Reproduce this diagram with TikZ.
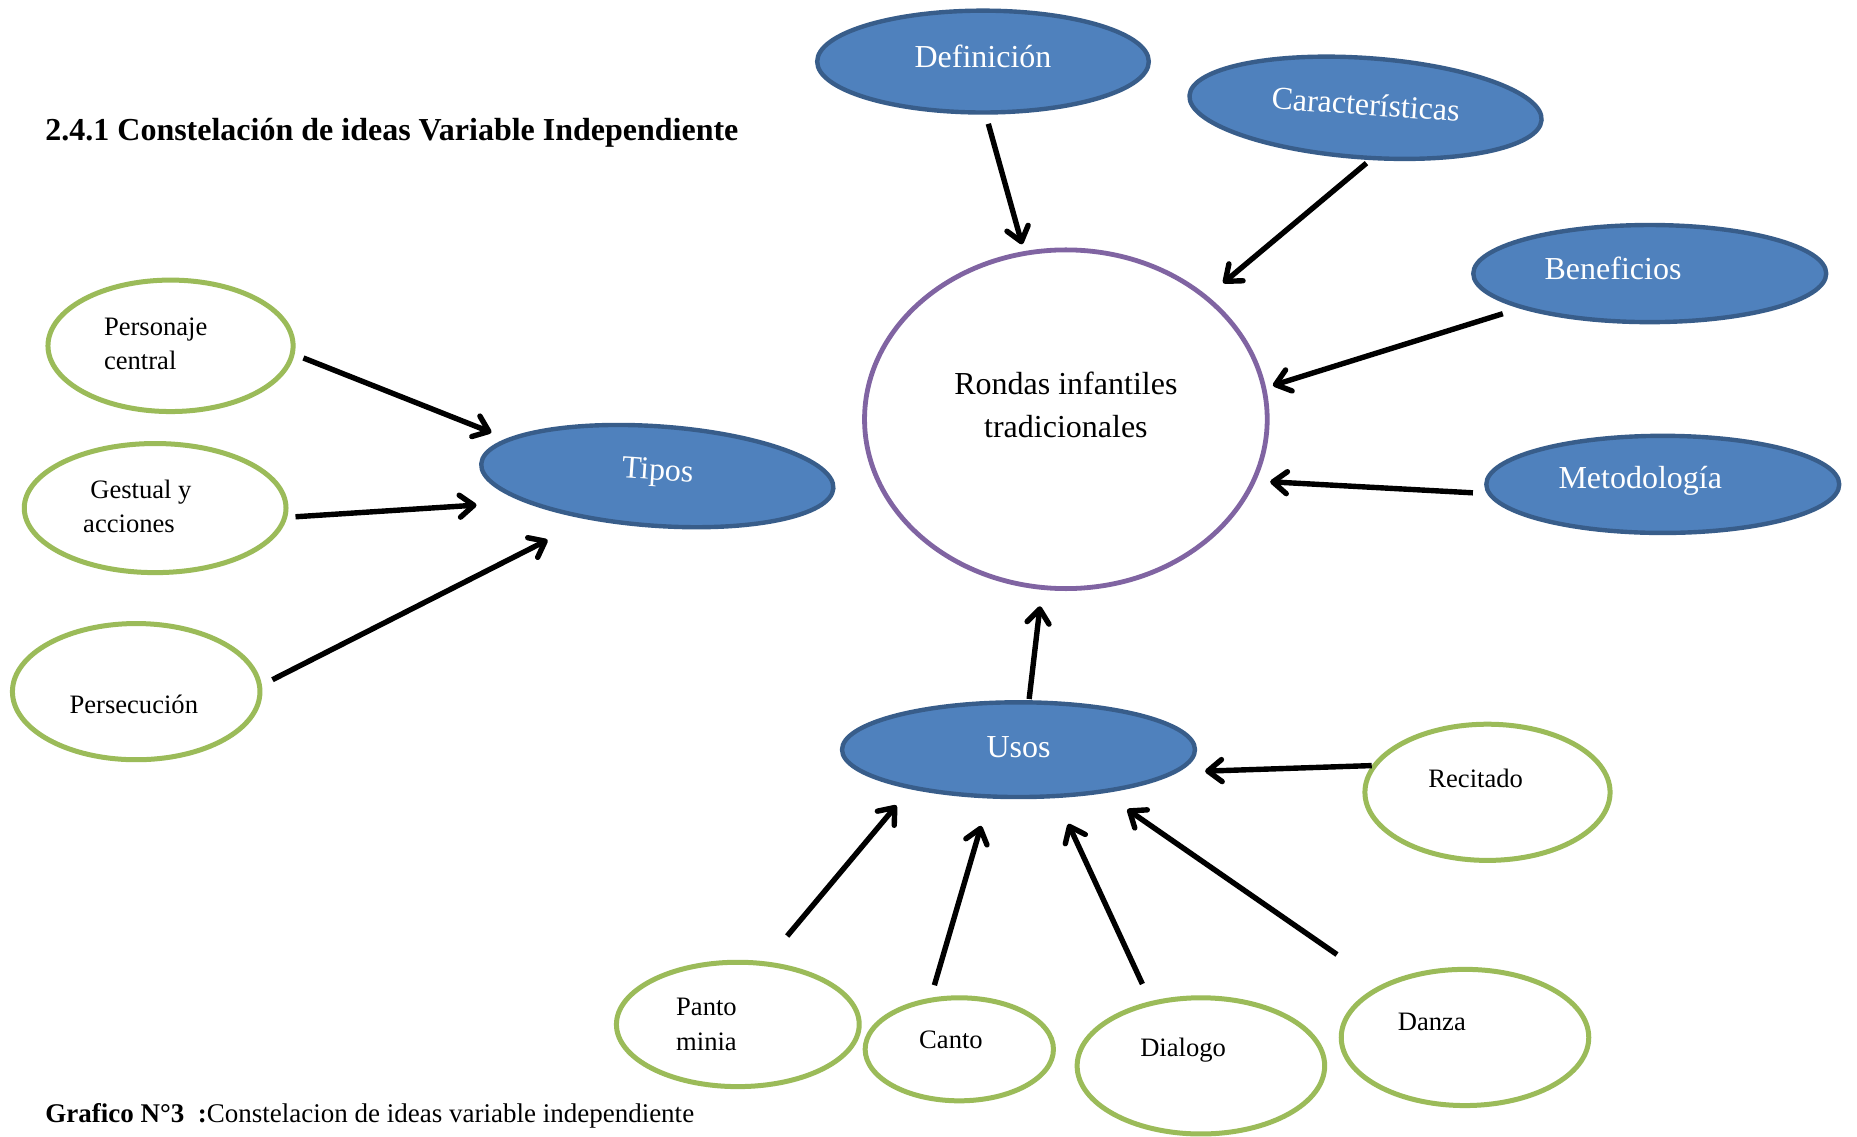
\documentclass[tikz,border=0pt]{standalone}
\usepackage{fontspec}
\setmainfont{Liberation Serif}
\usetikzlibrary{arrows.meta,shapes.geometric}
\newdimen\pxu \pxu=0.5922pt
\definecolor{bfill}{HTML}{4F81BD}
\definecolor{bline}{HTML}{385D8A}
\definecolor{purp}{HTML}{8064A2}
\definecolor{grn}{HTML}{9BBB59}
\begin{document}
\begin{tikzpicture}[x=0.5922pt,y=-0.5922pt,
  bluenode/.style={ellipse, fill=bfill, draw=bline, line width=2.2pt, inner sep=0pt},
  greennode/.style={ellipse, fill=white, draw=grn, line width=2.5pt, inner sep=0pt},
  mainnode/.style={ellipse, fill=white, draw=purp, line width=2.4pt, inner sep=0pt},
  btxt/.style={text=white, font=\fontsize{16}{19}\selectfont, inner sep=0pt},
  gtxt/.style={text=black, font=\fontsize{13.3}{17.2}\selectfont, inner sep=0pt},
  arr/.style={line width=2.7pt, -{Straight Barb[round, length=7pt, width=11pt]}},
  sh/.style 2 args={shorten <=#1\pxu, shorten >=#2\pxu}]
\useasboundingbox (0,0) rectangle (1568,960);
\fill[white] (0,0) rectangle (1568,960);

% title and caption
\node[anchor=west, inner sep=0pt, font=\fontsize{16}{19}\selectfont\bfseries] (title) at (38,112) {2.4.1 Constelación de ideas Variable Independiente};
\node[anchor=west, inner sep=0pt, font=\fontsize{13.5}{16}\selectfont] (caption) at (38,942) {\textbf{Grafico N°3\ \ :}Constelacion de ideas variable independiente};

% central node
\node[mainnode, minimum width=340\pxu, minimum height=286\pxu,
  label={[text=black, font=\fontsize{16}{21.3}\selectfont, align=center, inner sep=0pt, yshift=12\pxu]center:Rondas infantiles\\tradicionales}] (rit) at (900,354) {};

% blue nodes
\node[bluenode, minimum width=280\pxu, minimum height=86\pxu,
  label={[btxt, yshift=4\pxu]center:Definición}] (def) at (830,52) {};
\node[bluenode, rotate=-4, minimum width=298\pxu, minimum height=84\pxu,
  label={[btxt, rotate=-4, yshift=3\pxu]center:Características}] (car) at (1153,91) {};
\node[bluenode, minimum width=298\pxu, minimum height=82\pxu,
  label={[btxt, xshift=-31\pxu, yshift=4\pxu]center:Beneficios}] (ben) at (1393,231) {};
\node[bluenode, minimum width=298\pxu, minimum height=82\pxu,
  label={[btxt, xshift=-19\pxu, yshift=3\pxu]center:Metodología}] (met) at (1404,409) {};
\node[bluenode, rotate=-4, minimum width=298\pxu, minimum height=84\pxu,
  label={[btxt, rotate=-4, yshift=3\pxu]center:Tipos}] (tip) at (555,402) {};
\node[bluenode, minimum width=298\pxu, minimum height=80\pxu,
  label={[btxt, yshift=2\pxu]center:Usos}] (uso) at (860,633) {};

% green nodes
\node[greennode, minimum width=207\pxu, minimum height=111\pxu,
  label={[gtxt, align=left, xshift=-12.5\pxu, yshift=1.5\pxu]center:Personaje\\central}] (per) at (144,292) {};
\node[greennode, minimum width=221\pxu, minimum height=109\pxu,
  label={[gtxt, align=left, xshift=-15\pxu, yshift=1.5\pxu]center:\hspace*{6\pxu}Gestual y\\acciones}] (ges) at (131,429) {};
\node[greennode, minimum width=209\pxu, minimum height=115\pxu,
  label={[gtxt, xshift=-2\pxu, yshift=-11\pxu]center:Persecución}] (pers) at (115,584) {};
\node[greennode, minimum width=205\pxu, minimum height=105\pxu,
  label={[gtxt, align=center, xshift=-26.5\pxu]center:Panto\\minia}] (pan) at (623,865) {};
\node[greennode, minimum width=159\pxu, minimum height=87\pxu,
  label={[gtxt, xshift=-7\pxu, yshift=8\pxu]center:Canto}] (can) at (810,886) {};
\node[greennode, minimum width=209\pxu, minimum height=115\pxu,
  label={[gtxt, xshift=-15\pxu, yshift=13\pxu]center:Dialogo}] (dia) at (1014,900) {};
\node[greennode, minimum width=209\pxu, minimum height=115\pxu,
  label={[gtxt, xshift=-28\pxu, yshift=13\pxu]center:Danza}] (dan) at (1237,876) {};
\node[greennode, minimum width=207\pxu, minimum height=115\pxu,
  label={[gtxt, xshift=-10\pxu, yshift=12\pxu]center:Recitado}] (rec) at (1256,669) {};

% connectors
\draw[arr, sh={8}{6}]   (def.-87)  -- (rit.104);
\draw[arr, sh={4}{17}]  (car.-81)  -- (rit.41);
\draw[arr, sh={15}{6}]  (ben.195)  -- (rit.9);
\draw[arr, sh={12}{12}] (met.183)  -- (rit.-18);
\draw[arr, sh={1}{14}]  (uso.78)   -- (rit.-98);
\draw[arr, sh={0}{23}]  (rec.167)  -- (uso.-8);
\draw[arr, sh={8}{14}]  (per.-4)   -- (tip.170);
\draw[arr, sh={7}{40}]  (ges.-4)   -- (tip.195);
\draw[arr, sh={10}{38}] (pers.3)   -- (tip.216);
\draw[arr, sh={28}{18}] (pan.66)   -- (uso.200);
\draw[arr, sh={11}{24}] (can.119)  -- (uso.-121);
\draw[arr, sh={16}{24}] (dia.128)  -- (uso.-52);
\draw[arr, sh={45}{24}] (dan.148)  -- (uso.-27);
\end{tikzpicture}
\end{document}
